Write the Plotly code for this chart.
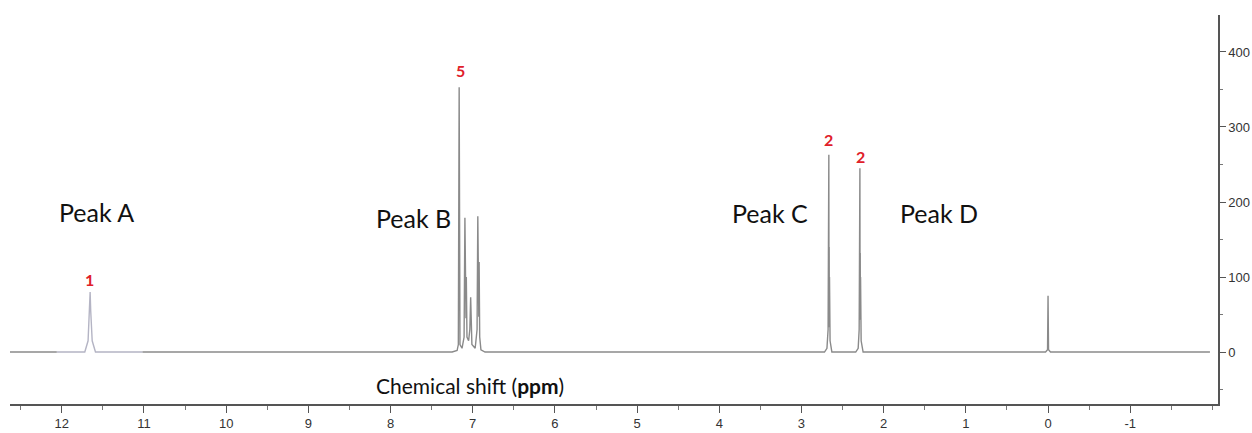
import plotly.graph_objects as go

# ---- spectrum vertices (ppm, intensity) ----
main_ppm = [12.63, 12.06, None,
            11.02, 7.25, 7.19, 7.175, 7.165, 7.155, 7.13, 7.105, 7.095, 7.09, 7.086, 7.082, 7.078, 7.074, 7.07,
            7.05, 7.035, 7.025, 7.02, 7.016, 7.01, 6.97, 6.947, 6.938, 6.934, 6.930, 6.926, 6.922, 6.915, 6.90,
            6.85, 2.72, 2.69, 2.676, 2.671, 2.669, 2.667, 2.665, 2.663, 2.661, 2.659, 2.652, 2.63,
            2.34, 2.31, 2.298, 2.293, 2.291, 2.289, 2.287, 2.285, 2.283, 2.281, 2.274, 2.25,
            0.03, 0.006, 0.0, -0.006, -0.03, -1.97]
main_int = [0, 0, None,
            0, 0, 2, 10, 353, 10, 5, 20, 179, 60, 127, 45, 100, 30, 20,
            15, 30, 73, 25, 40, 10, 5, 30, 181, 50, 160, 47, 120, 20, 3,
            0, 0, 5, 30, 160, 35, 263, 40, 140, 33, 100, 15, 0,
            0, 5, 30, 153, 43, 245, 50, 132, 43, 100, 15, 0,
            0, 3, 75, 3, 0, 0]

acid_ppm = [12.06, 11.72, 11.68, 11.662, 11.655, 11.648, 11.63, 11.59, 11.02]
acid_int = [0, 0, 15, 55, 80, 55, 15, 0, 0]

# ---- annotation texts ----
peak_names = ["Peak A", "Peak B", "Peak C", "Peak D"]
peak_name_ppm = [11.58, 7.725, 3.38, 1.33]
peak_name_y = [187, 179, 185, 185]

integral_labels = ["1", "5", "2", "2"]
integral_ppm = [11.66, 7.153, 2.676, 2.287]
integral_y = [97, 375, 283, 260]

x_ticks = [12, 11, 10, 9, 8, 7, 6, 5, 4, 3, 2, 1, 0, -1]
y_ticks = [0, 100, 200, 300, 400]

TXT_FONT = "Lato, Open Sans, sans-serif"
TICK_FONT = "Liberation Sans, Arial, sans-serif"

fig = go.Figure()
fig.add_trace(go.Scatter(x=main_ppm, y=main_int, mode="lines",
                         line=dict(color="#8a8a8a", width=1.4), connectgaps=False,
                         hoverinfo="skip", showlegend=False))
fig.add_trace(go.Scatter(x=acid_ppm, y=acid_int, mode="lines",
                         line=dict(color="#b4b4c4", width=1.4),
                         hoverinfo="skip", showlegend=False))

for name, px, py in zip(peak_names, peak_name_ppm, peak_name_y):
    fig.add_annotation(x=px, y=py, xref="x", yref="y", text=name, showarrow=False,
                       font=dict(family=TXT_FONT, size=25, color="#111111"))

for lab, px, py in zip(integral_labels, integral_ppm, integral_y):
    fig.add_annotation(x=px, y=py, xref="x", yref="y", text="<b>" + lab + "</b>", showarrow=False,
                       font=dict(family=TXT_FONT, size=16, color="#e0202a"))

fig.add_annotation(x=7.03, y=-44, xref="x", yref="y", text="Chemical shift (<b>ppm</b>)",
                   showarrow=False,
                   font=dict(family=TXT_FONT, size=21, color="#111111"))

fig.update_layout(
    width=1252, height=433,
    margin=dict(l=10, r=34, t=15, b=29, autoexpand=False),
    paper_bgcolor="white", plot_bgcolor="white",
    xaxis=dict(range=[12.63, -2.068], tickvals=x_ticks, ticktext=[str(v) for v in x_ticks],
               automargin=False,
               showgrid=False, zeroline=False, showline=True, linecolor="#555555", linewidth=1.5,
               ticks="outside", ticklen=7, tickwidth=1.2, tickcolor="#555555",
               minor=dict(dtick=0.5, tick0=0, ticks="outside", ticklen=4, tickcolor="#777777", tickwidth=1),
               tickfont=dict(family=TICK_FONT, size=13, color="#333333")),
    yaxis=dict(range=[-69.3, 449.3], tickvals=y_ticks, ticktext=[str(v) for v in y_ticks],
               automargin=False,
               side="right", showgrid=False, zeroline=False, showline=True,
               linecolor="#555555", linewidth=1.5,
               ticks="outside", ticklen=6, tickwidth=1.2, tickcolor="#555555",
               minor=dict(dtick=50, tick0=0, ticks="outside", ticklen=3, tickcolor="#777777", tickwidth=1),
               tickfont=dict(family=TICK_FONT, size=13, color="#333333")),
)

fig.write_html("out.html")
